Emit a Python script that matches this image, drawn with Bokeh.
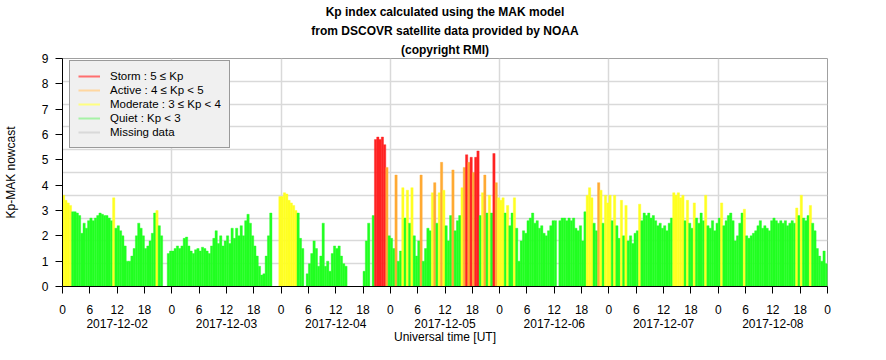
from bokeh.plotting import figure
from bokeh.models import (ColumnDataSource, FixedTicker, LinearAxis, Range1d,
                          Legend, LegendItem, Title)
from bokeh.embed import file_html
from bokeh.resources import INLINE

nan = float("nan")

# ---------------- data ----------------
dates = ["2017-12-02", "2017-12-03", "2017-12-04", "2017-12-05",
         "2017-12-06", "2017-12-07", "2017-12-08"]
hour_labels = ["0", "6", "12", "18"]
y_ticks = [0, 1, 2, 3, 4, 5, 6, 7, 8, 9]
step_hours = 0.5  # one Kp value every 30 minutes

kp_dec02 = [3.6, 3.4, 3.3, 3.2, 2.95, 2.95, 2.9, 2.8, 2.1, 2.5, 2.3, 2.6,
            2.7, 2.6, 2.7, 2.8, 2.9, 2.85, 2.8, 2.8, 2.7, 2.6, 3.5, 2.3,
            2.4, 2.2, 2.0, 1.6, 1.0, 1.0, 1.2, 1.5, 2.0, 2.5, 2.3, 2.0,
            1.5, 1.6, 1.8, 2.1, 2.9, 3.0, 2.4, 2.0, nan, nan, 1.3, 1.4]
kp_dec03 = [1.4, 1.5, 1.6, 1.5, 1.6, 1.9, 1.95, 1.6, 1.4, 1.3, 1.45, 1.5,
            1.4, 1.55, 1.5, 1.4, 1.3, 1.6, 1.9, 2.2, 1.7, 2.0, 1.6, 1.8,
            2.0, 1.7, 2.3, 1.9, 2.3, 2.0, 2.4, 2.0, 2.6, 2.85, 2.5, 2.0,
            1.6, 1.2, 0.8, 0.45, 0.5, 1.2, 2.0, 2.9, nan, nan, nan, 3.55]
kp_dec04 = [3.55, 3.7, 3.65, 3.4, 3.3, 3.2, 3.0, 2.9, 1.9, 1.5, nan, 0.5,
            0.9, 1.3, 1.8, 1.5, 0.8, 1.2, 2.5, 0.8, 1.0, 0.6, 1.3, 1.6,
            1.5, 1.6, 1.2, 0.9, 0.8, nan, nan, nan, nan, nan, nan, nan,
            0.6, 1.8, 2.5, nan, 2.8, 5.8, 5.9, 5.8, 5.9, 5.6, 4.7, 2.0]
kp_dec05 = [1.9, 1.5, 4.4, 1.0, 1.4, 3.9, 2.7, 3.8, 2.5, 3.9, 2.0, 1.2,
            1.8, 4.4, 1.0, 1.5, 2.3, 2.2, 3.7, 4.1, 2.5, 3.7, 4.9, 3.8,
            2.4, 1.8, 2.8, 4.6, 2.2, 2.6, 2.8, 3.9, 4.7, 5.2, 4.9, 5.1,
            4.5, 5.1, 5.35, 2.8, 3.7, 4.4, 2.9, 3.6, 2.9, 5.25, 4.1, 3.5]
kp_dec06 = [3.4, 3.5, 2.9, 3.2, 2.4, 2.9, 3.5, 2.3, 1.0, 1.8, 2.2, 2.1,
            2.6, 2.7, 2.9, 2.5, 2.6, 2.3, 2.4, 2.1, 2.0, 2.2, 2.4, 2.6,
            2.6, nan, 2.6, 2.7, 2.7, 2.6, 2.7, 2.6, 2.7, 2.3, 2.2, 2.4,
            1.8, 2.95, 3.6, 3.9, 3.5, 2.5, 2.2, 4.1, 3.8, 2.5, 3.6, 3.3]
kp_dec07 = [3.6, 2.6, 3.6, 2.4, 1.9, 3.4, 2.0, 3.2, 1.8, 2.0, 1.7, 2.1,
            2.2, 3.25, 2.6, 2.9, 2.8, 2.9, 2.7, 2.8, 2.6, 2.4, 2.5, 2.3,
            2.4, 2.2, 2.5, 2.7, 3.7, 3.6, 3.7, 3.5, 3.6, 2.6, 3.4, 2.5,
            2.3, 3.3, 2.7, 2.5, 2.9, 2.6, 3.6, 2.4, 2.3, 2.6, 2.2, 2.5]
kp_dec08 = [2.7, 3.3, 2.4, 2.6, 2.8, 2.9, 2.6, 1.8, 2.0, 2.5, 2.9, 3.05,
            2.0, 1.9, 2.0, 2.1, 2.2, 2.4, 2.6, 2.3, 2.4, 2.3, 2.2, 2.6,
            2.7, 2.6, 2.5, 2.6, 2.5, 2.6, 2.4, 2.5, 2.6, 2.5, 3.1, 2.8,
            3.6, 2.7, 2.6, 2.8, 3.2, 2.5, 2.2, 1.5, 1.2, 1.0, 1.4, 0.9]

legend_labels = ["Storm : 5 \u2264 Kp", "Active : 4 \u2264 Kp < 5",
                 "Moderate : 3 \u2264 Kp < 4", "Quiet : Kp < 3", "Missing data"]

title_lines = ["Kp index calculated using the MAK model",
               "from DSCOVR satellite data provided by NOAA",
               "(copyright RMI)"]

# ---------------- styles ----------------
BAR_RED, BAR_ORANGE, BAR_YELLOW, BAR_GREEN = "#ff2222", "#ffaa33", "#ffff22", "#22ff22"
LEG_COLORS = ["#ff6f6f", "#ffd7a0", "#ffff80", "#a6f2a6", "#d9d9d9"]
FONT = "Liberation Sans"


def kp_color(v):
    if v >= 5:
        return BAR_RED
    if v >= 4:
        return BAR_ORANGE
    if v >= 3:
        return BAR_YELLOW
    return BAR_GREEN


kp_days = [kp_dec02, kp_dec03, kp_dec04, kp_dec05, kp_dec06, kp_dec07, kp_dec08]
xs, tops, cols = [], [], []
for d, day in enumerate(kp_days):
    for j, v in enumerate(day):
        if v != v:
            continue
        xs.append(d * 24 + j * step_hours + step_hours / 2)
        tops.append(v)
        cols.append(kp_color(v))
src = ColumnDataSource(dict(x=xs, top=tops, color=cols))

n_days = len(dates)
p = figure(width=886, height=360, title=None,
           x_range=Range1d(0, 24 * n_days), y_range=Range1d(0, 9),
           output_backend="svg", toolbar_location=None,
           min_border_left=59, min_border_right=59,
           min_border_top=58, min_border_bottom=74)
p.outline_line_color = "#a0a0a0"
p.outline_line_width = 1
p.background_fill_color = "white"
p.border_fill_color = "white"

# title: three centred lines, first added sits closest to the frame
for txt, so in zip(reversed(title_lines), [3, 2.5, 2.5]):
    p.add_layout(Title(text=txt, align="center", text_font=FONT,
                       text_font_size="12px", text_font_style="bold",
                       text_color="black", standoff=so), "above")

p.vbar(x="x", top="top", bottom=0, width=step_hours, source=src,
       fill_color="color", line_color="color", line_width=0.4)

# grids
p.xgrid.ticker = FixedTicker(ticks=[24 * d for d in range(n_days + 1)])
p.ygrid.ticker = FixedTicker(ticks=[0, 0.9, 1.8, 2.7, 3.6, 4.5, 5.4, 6.3, 7.2, 8.1, 9.0])
for g in (p.xgrid, p.ygrid):
    g.grid_line_color = "#d9d9d9"
    g.grid_line_width = 1.5

# y axis
ya = p.yaxis[0]
ya.ticker = FixedTicker(ticks=y_ticks)
ya.axis_line_color = "black"
ya.major_tick_line_color = "black"
ya.major_tick_in = 0
ya.major_tick_out = 7
ya.minor_tick_line_color = None
ya.major_label_standoff = 7
ya.major_label_text_font = FONT
ya.major_label_text_font_size = "12px"
ya.major_label_text_color = "black"
ya.axis_label = "Kp-MAK nowcast"
ya.axis_label_standoff = 21
ya.axis_label_text_font = FONT
ya.axis_label_text_font_size = "12px"
ya.axis_label_text_font_style = "normal"
ya.axis_label_text_color = "black"

# x axis: hours
xa = p.xaxis[0]
hour_ticks = []
hour_over = {}
for d in range(n_days):
    for k, lab in enumerate(hour_labels):
        t = d * 24 + 6 * k
        hour_ticks.append(t)
        hour_over[t] = lab
hour_ticks.append(24 * n_days)
hour_over[24 * n_days] = hour_labels[0]
xa.ticker = FixedTicker(ticks=hour_ticks)
xa.major_label_overrides = hour_over
xa.axis_line_color = "black"
xa.major_tick_line_color = "black"
xa.major_tick_in = 0
xa.major_tick_out = 7
xa.minor_tick_line_color = None
xa.major_label_standoff = 11
xa.major_label_text_font = FONT
xa.major_label_text_font_size = "12px"
xa.major_label_text_color = "black"

# x axis: dates
date_ticks = [24 * d + 12 for d in range(n_days)]
date_axis = LinearAxis(ticker=FixedTicker(ticks=date_ticks),
                       major_label_overrides={t: lab for t, lab in zip(date_ticks, dates)})
date_axis.axis_line_color = None
date_axis.major_tick_line_color = None
date_axis.minor_tick_line_color = None
date_axis.major_tick_in = 0
date_axis.major_tick_out = 0
date_axis.major_label_standoff = 2
date_axis.major_label_text_font = FONT
date_axis.major_label_text_font_size = "12px"
date_axis.major_label_text_color = "black"
date_axis.axis_label = "Universal time [UT]"
date_axis.axis_label_standoff = -1
date_axis.axis_label_text_font = FONT
date_axis.axis_label_text_font_size = "12px"
date_axis.axis_label_text_font_style = "normal"
date_axis.axis_label_text_color = "black"
p.add_layout(date_axis, "below")

# legend (bottom-left corner given in screen units from the frame's bottom-left)
items = []
for lab, col in zip(legend_labels, LEG_COLORS):
    r = p.line(x=[-100, -99], y=[-100, -100], line_color=col, line_width=2)
    items.append(LegendItem(label=lab, renderers=[r]))
legend = Legend(items=items, location=(7, 138))
legend.label_text_font = FONT
legend.label_text_font_size = "11.5px"
legend.label_text_color = "black"
legend.glyph_width = 22
legend.glyph_height = 14
legend.label_height = 14
legend.label_standoff = 10
legend.spacing = 0
legend.padding = 8
legend.margin = 0
legend.background_fill_color = "#f0f0f0"
legend.background_fill_alpha = 1
legend.border_line_color = "#444444"
legend.border_line_width = 1
p.add_layout(legend)

open("out.html", "w").write(file_html(p, INLINE))
